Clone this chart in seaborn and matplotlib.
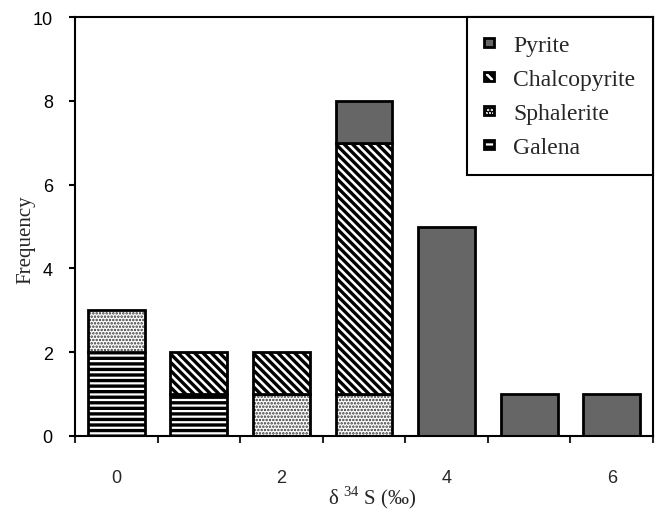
import numpy as np
import pandas as pd
import matplotlib
matplotlib.use("Agg")
import matplotlib.pyplot as plt
from matplotlib.patches import Patch
import seaborn as sns

categories = ["0", "1", "2", "3", "4", "5", "6"]
tick_labels = ["0", "", "2", "", "4", "", "6"]
galena = [2, 1, 0, 0, 0, 0, 0]
sphalerite = [1, 0, 1, 1, 0, 0, 0]
chalcopyrite = [0, 1, 1, 6, 0, 0, 0]
pyrite = [0, 0, 0, 1, 5, 1, 1]

# name, values, face colour, hatch colour, hatch, hatch linewidth
series = [
    ("Galena", galena, "white", "black", "---", 2.4),
    ("Sphalerite", sphalerite, "white", "#333333", ".....", 1.2),
    ("Chalcopyrite", chalcopyrite, "white", "black", "\\\\\\\\", 2.4),
    ("Pyrite", pyrite, "#666666", "#666666", None, 1.0),
]

sns.set_theme(style="ticks")
plt.rcParams["font.family"] = ["Liberation Serif", "DejaVu Sans"]
plt.rcParams["mathtext.fontset"] = "custom"
plt.rcParams["mathtext.rm"] = "Liberation Serif"
plt.rcParams["hatch.linewidth"] = 2.4

fig = plt.figure(figsize=(6.56, 5.10), dpi=100)
ax = fig.add_axes([75 / 656, 73 / 510, 578 / 656, 419 / 510])


def set_hlw(p, lw):
    if hasattr(p, "set_hatch_linewidth"):
        p.set_hatch_linewidth(lw)
    else:
        p._hatch_linewidth = lw


bottom = np.zeros(len(categories))
width = 0.69
for name, vals, fc, hc, hatch, hlw in series:
    vals = np.array(vals, dtype=float)
    df = pd.DataFrame({"cat": categories, "val": vals})
    n_before = len(ax.patches)
    sns.barplot(data=df, x="cat", y="val", bottom=bottom, color=fc, width=width,
                ax=ax, saturation=1, errorbar=None)
    for p, v in zip(ax.patches[n_before:], vals):
        p.set_facecolor(fc)
        p.set_edgecolor(hc)
        p.set_linewidth(0)
        if hatch:
            p.set_hatch(hatch)
            set_hlw(p, hlw)
        if v == 0:
            p.set_visible(False)
    # outlines
    n_before = len(ax.patches)
    sns.barplot(data=df, x="cat", y="val", bottom=bottom, color=fc, width=width,
                ax=ax, saturation=1, errorbar=None)
    for p, v in zip(ax.patches[n_before:], vals):
        p.set_facecolor("none")
        p.set_edgecolor("black")
        p.set_linewidth(2.0)
        p.set_hatch(None)
        if v == 0:
            p.set_visible(False)
    bottom = bottom + vals

ax.set_xlim(-0.5, len(categories) - 0.5)
ax.set_ylim(0, 10)
ax.set_yticks([0, 2, 4, 6, 8, 10])
ax.set_yticklabels(["0", "2", "4", "6", "8", "10"], fontfamily="Liberation Sans", fontsize=13)
ax.tick_params(axis="y", length=4, width=1.5, pad=12, colors="black")

ax.set_xticks(np.arange(len(categories) + 1) - 0.5)
ax.set_xticklabels([])
ax.tick_params(axis="x", which="major", length=5, width=1.5, direction="out")
ax.set_xticks(np.arange(len(categories)), minor=True)
ax.set_xticklabels(tick_labels, minor=True, fontfamily="Liberation Sans", fontsize=13)
ax.tick_params(axis="x", which="minor", length=0, pad=24)

for s in ax.spines.values():
    s.set_linewidth(1.5)
    s.set_color("black")
    s.set_visible(True)

ax.set_ylabel("Frequency", fontsize=15)
ax.yaxis.set_label_coords(-0.085, 0.47)
ax.yaxis.label.set_va("center")
ax.set_xlabel(r"δ $^{34}$ S (‰)", fontsize=15)
ax.xaxis.set_label_coords(0.515, -0.112)

handles = []
for name, vals, fc, hc, hatch, hlw in reversed(series):
    h = Patch(facecolor=fc, edgecolor="black", hatch=hatch, linewidth=2.0, label=name)
    handles.append(h)
leg = ax.legend(handles=handles, loc="upper right", fontsize=17, frameon=True,
                fancybox=False, edgecolor="black", framealpha=1,
                handlelength=0.42, handleheight=0.22, handletextpad=0.8,
                labelspacing=0.55, borderpad=0.75, borderaxespad=0.0)
leg.get_frame().set_linewidth(1.5)

fig.savefig("out.png", dpi=100)
